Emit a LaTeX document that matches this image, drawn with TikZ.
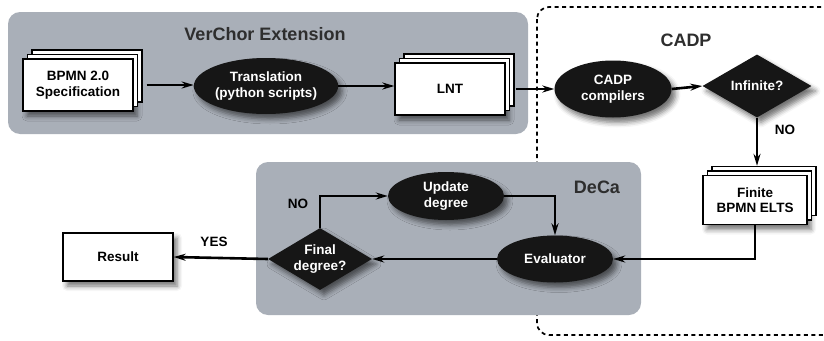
\documentclass[tikz,border=0pt]{standalone}
\usepackage{fontspec}
\setmainfont{Liberation Sans}
\usetikzlibrary{shapes.geometric,shadows,shadows.blur,arrows.meta}

\definecolor{panelgray}{HTML}{A9AFB8}
\definecolor{titlegray}{HTML}{2E2E2E}
\definecolor{nodeblack}{HTML}{161616}

\begin{document}
\begin{tikzpicture}[x=1pt,y=-1pt,
    font=\fontsize{13.5}{15.5}\selectfont\bfseries,
    panel/.style={fill=panelgray, rounded corners=12pt},
    paneltitle/.style={text=titlegray, font=\fontsize{18}{20}\selectfont\bfseries},
    softshadow/.style={blur shadow={shadow xshift=4pt, shadow yshift=-5pt, shadow blur radius=5pt, shadow opacity=55}},
    doc/.style={draw, line width=1.3pt, fill=white, align=center, minimum width=110pt, minimum height=52pt, softshadow},
    docstack/.style={doc, double copy shadow={shadow xshift=4.5pt, shadow yshift=4.5pt}},
    proc/.style={ellipse, fill=nodeblack, text=white, align=center, inner sep=0pt, softshadow},
    test/.style={diamond, fill=nodeblack, text=white, align=center, inner sep=0pt, aspect=1.7, softshadow},
    arrow/.style={line width=2.6pt, -{Stealth[length=12pt,width=7pt]}}]

    \useasboundingbox (0,0) rectangle (824,340);

    % the CADP area and the two panels
    \draw[line width=1.7pt, dash pattern=on 4pt off 3.5pt, rounded corners=12pt] (537,7) rectangle (860,335);
    \fill[panel] (8,12) rectangle (528,134);
    \fill[panel] (256,162) rectangle (641,315);

    \node[paneltitle] (verchorTitle) at (265,34) {VerChor Extension};
    \node[paneltitle] (cadpTitle) at (686,40) {CADP};
    \node[paneltitle] (decaTitle) at (597,187) {DeCa};

    % these are the steps
    \node[docstack] (bpmn) at (78,85) {BPMN 2.0\\Specification};
    \node[proc, minimum width=134pt, minimum height=56pt] (transl) at (266,86) {Translation\\(python scripts)};
    \node[docstack] (lnt) at (450,89) {LNT};
    \node[proc, minimum width=117pt, minimum height=57pt] (cadp) at (613,89) {CADP\\compilers};
    \node[test, minimum width=109pt, minimum height=63pt] (inf) at (757,86) {Infinite?};
    \node[docstack, minimum width=104pt, minimum height=49pt] (finite) at (755,200) {Finite\\BPMN ELTS};
    \node[proc, minimum width=116pt, minimum height=47pt] (eval) at (555,259) {Evaluator};
    \node[proc, minimum width=116pt, minimum height=48pt] (update) at (446,196) {Update\\degree};
    \node[test, minimum width=104pt, minimum height=62pt] (final) at (320,259) {Final\\degree?};
    \node[doc, minimum height=48pt] (result) at (118,257) {Result};

    \node (noInf) at (785,130) {NO};
    \node (noFin) at (298,204) {NO};
    \node (yes) at (214,242) {YES};

    \coordinate (finiteTop) at ([yshift=9pt]finite.north);

    \draw[arrow] ([xshift=13pt]bpmn.east) -- (transl.west |- bpmn.east);
    \draw[arrow] (transl.east) -- (transl.east -| lnt.west);
    \draw[arrow] ([xshift=10pt]lnt.east) -- (cadp.west);
    \draw[arrow] (cadp.east) -- (inf.west);
    \draw[arrow] (inf.south) -- (inf.south |- finiteTop);
    \draw[arrow] (finite.south) |- (eval.east);
    \draw[arrow] (eval.west) -- (final.east);
    \draw[arrow] (final.west) -- (result.east);
    \draw[arrow] (final.north) |- (update.west);
    \draw[arrow] (update.east) -| (eval.north);

\end{tikzpicture}
\end{document}
